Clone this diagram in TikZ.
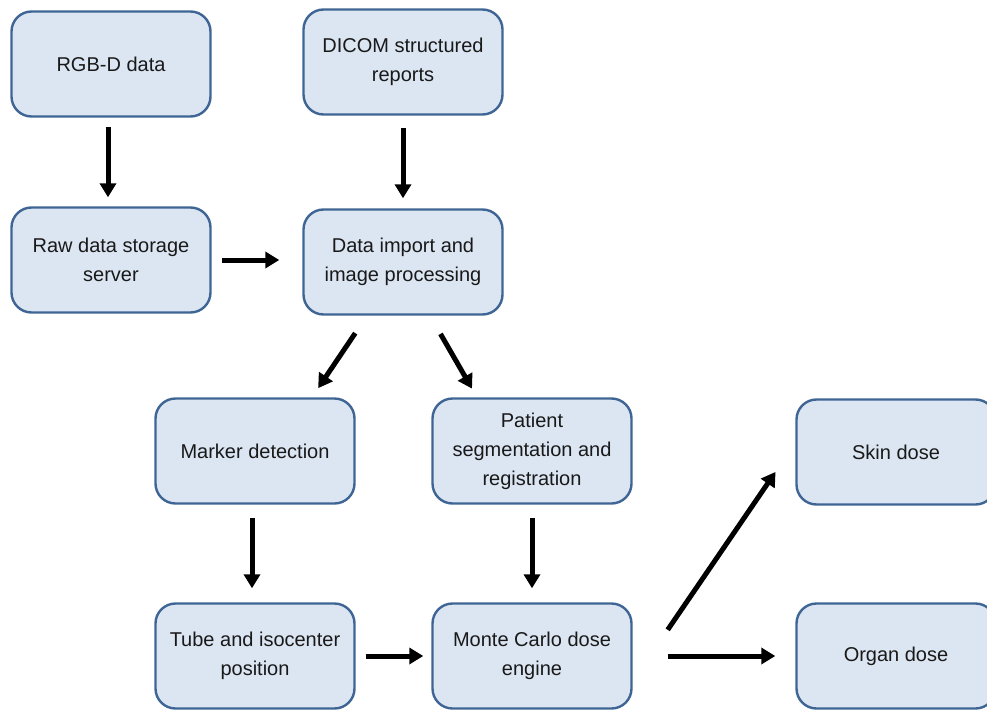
\documentclass[tikz,border=0pt]{standalone}
\usepackage{fontspec}
\setmainfont{Liberation Sans}
\usepackage{tikz}
\usetikzlibrary{arrows.meta}

\definecolor{boxfill}{HTML}{DCE6F2}
\definecolor{boxline}{HTML}{3F6594}

\tikzset{
  blk/.style={draw=boxline, fill=boxfill, line width=2.4pt, rounded corners=20pt,
    minimum width=199pt, minimum height=105pt, align=center, text=black!90,
    font=\fontsize{20}{29}\selectfont},
  flow/.style={line width=5pt, -{Triangle[length=14pt,width=16pt]}}
}

\begin{document}
\begin{tikzpicture}[x=1pt,y=-1pt]
        \useasboundingbox (0,0) rectangle (987,709);
        \clip (0,0) rectangle (987,709);
        % top
        \node[blk] (rgbd)    at (111,64)  {RGB-D data};
        \node[blk] (dicom)   at (403,62)  {DICOM structured\\reports};
        \node[blk] (raw)     at (111,260) {Raw data storage\\server};
        \node[blk] (import)  at (403,262) {Data import and\\image processing};
        % middle
        \node[blk] (marker)  at (255,451) {Marker detection};
        \node[blk] (patient) at (532,451) {Patient\\segmentation and\\registration};
        \node[blk] (skin)    at (896,452) {Skin dose};
        % bottom
        \node[blk] (tube)    at (255,656) {Tube and isocenter\\position};
        \node[blk] (monte)   at (532,656) {Monte Carlo dose\\engine};
        \node[blk] (organ)   at (896,656) {Organ dose};

        \draw[flow, shorten <=9pt, shorten >=9pt] ([xshift=-3pt]rgbd.south) -- ([xshift=-3pt]raw.north);
        \draw[flow, shorten <=12pt, shorten >=10pt] (dicom.south) -- (import.north);
        \draw[flow, shorten <=10pt, shorten >=23pt] (raw.east) -- (raw.east -| import.west);
        \draw[flow, shorten <=21pt, shorten >=11pt] ([xshift=-36pt]import.south) -- ([xshift=57pt]marker.north);
        \draw[flow, shorten <=21pt, shorten >=10pt] ([xshift=27pt]import.south) -- ([xshift=-55pt]patient.north);
        \draw[flow, shorten <=13pt, shorten >=14pt] ([xshift=-3pt]marker.south) -- ([xshift=-3pt]tube.north);
        \draw[flow, shorten <=13pt, shorten >=14pt] (patient.south) -- (monte.north);
        \draw[flow, shorten <=10pt, shorten >=8pt] (tube.east) -- (monte.west);
        \draw[flow, shorten <=62pt, shorten >=35pt] ([yshift=-25pt]monte.east) -- ([yshift=9pt]skin.west);
        \draw[flow, shorten <=35pt, shorten >=20pt] (monte.east) -- (organ.west);
\end{tikzpicture}
\end{document}
